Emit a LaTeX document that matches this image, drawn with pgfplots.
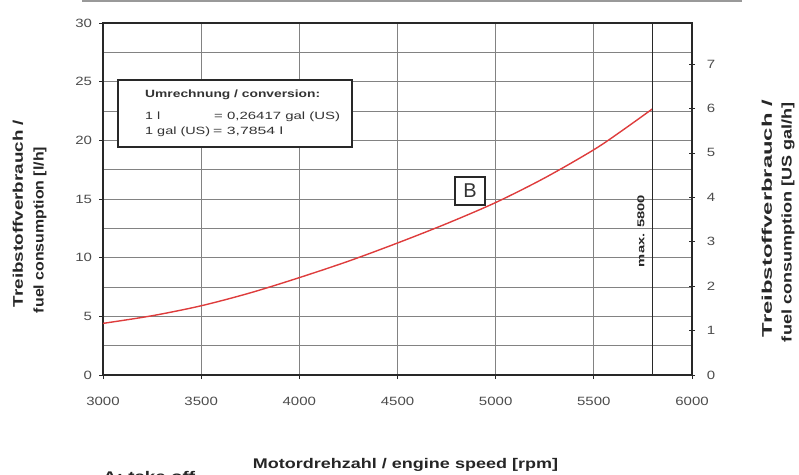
\documentclass[border=0pt]{standalone}
\usepackage{pgfplots}
\pgfplotsset{compat=1.18}
\usepackage{fontspec}
\setmainfont{Liberation Sans}
\usepackage{graphicx}
\newcommand\SW[2]{\resizebox{#1}{\height}{#2}}
\definecolor{curve}{RGB}{222,60,60}
\definecolor{frame}{RGB}{40,40,40}
\definecolor{gridc}{RGB}{130,130,130}
\begin{document}
\begin{tikzpicture}
\begin{axis}[
  at={(103pt,99pt)}, anchor=south west, scale only axis,
  width=589pt, height=352pt,
  xmin=3000, xmax=6000, ymin=0, ymax=30,
  xtick={3000,3500,...,6000}, ytick={0,5,...,30},
  minor ytick={2.5,7.5,...,27.5},
  xtick pos=left, ytick pos=left, tick align=outside,
  major tick length=4pt, minor tick length=0pt,
  grid=both,
  major grid style={gridc, line width=0.8pt},
  minor grid style={gridc, line width=0.8pt},
  axis line style={frame, line width=1.8pt},
  tick style={frame, line width=0.8pt},
  tick label style={font=\fontsize{12}{14}\selectfont, xscale=1.25, text=black!70},
  /pgf/number format/assume math mode=true,
  /pgf/number format/1000 sep={},
  xticklabel style={yshift=-15pt},
  yticklabel style={xshift=-2pt},
  clip=false,
]
\addplot[curve, line width=1.4pt, smooth] coordinates {
  (3000,4.4) (3250,5.05) (3500,5.9) (3750,7.0) (4000,8.3) (4250,9.7)
  (4500,11.25) (4750,12.9) (5000,14.7) (5250,16.8) (5500,19.2)
  (5650,20.9) (5800,22.7)
};
\draw[frame, line width=1.3pt] (axis cs:5800,0) -- (axis cs:5800,30);
\end{axis}
\begin{axis}[
  at={(103pt,99pt)}, anchor=south west, scale only axis,
  width=589pt, height=352pt,
  xmin=3000, xmax=6000, ymin=0, ymax=7.92518,
  hide x axis, axis y line*=right,
  ytick={0,1,...,7}, tick align=center, major tick length=6pt,
  axis line style={frame, line width=1.8pt},
  tick style={frame, line width=0.8pt},
  tick label style={font=\fontsize{12}{14}\selectfont, xscale=1.25, text=black!70},
  /pgf/number format/assume math mode=true,
  yticklabel style={xshift=6pt},
]
\end{axis}
% top partial frame line
\draw[gray!80, line width=1.2pt] (82pt,473pt) -- (742pt,473pt);
% conversion box
\draw[frame, line width=2pt, fill=white] (118pt,394pt) rectangle (352pt,327pt);
\begin{scope}[every node/.style={inner sep=0pt, font=\fontsize{10.5}{12}\selectfont, text=black!80}]
\node[anchor=base west] at (145pt,376pt) {\SW{175pt}{\bfseries Umrechnung / conversion:}};
\node[anchor=base west] at (145pt,354pt) {\SW{15pt}{1 l}};
\node[anchor=base west] at (214pt,354pt) {\SW{126pt}{= 0,26417 gal (US)}};
\node[anchor=base west] at (145pt,339pt) {\SW{65pt}{1 gal (US)}};
\node[anchor=base west] at (213pt,339pt) {\SW{70pt}{= 3,7854 l}};
\end{scope}
% B marker
\draw[frame, line width=1.6pt, fill=white] (455pt,297pt) rectangle (485pt,269pt);
\node[inner sep=0pt, font=\fontsize{20}{22}\selectfont, text=black!80] at (470pt,283pt) {B};
% max 5800
\node[rotate=90, inner sep=0pt, font=\fontsize{10}{11}\selectfont\bfseries, text=black!85] at (641pt,243pt) {\SW{72pt}{max. 5800}};
% axis titles
\begin{scope}[every node/.style={inner sep=0pt, font=\fontsize{14}{16}\selectfont\bfseries, text=black!85}]
\node[anchor=base] at (405.5pt,6pt) {\SW{305pt}{Motordrehzahl / engine speed [rpm]}};
\node[anchor=base west] at (103pt,-7pt) {\SW{92pt}{A: take off}};
\node[rotate=90] at (18pt,260.5pt) {\SW{187pt}{Treibstoffverbrauch /}};
\node[rotate=90] at (40pt,244pt) {\SW{166pt}{fuel consumption [l/h]}};
\node[rotate=90] at (767pt,255.5pt) {\SW{237pt}{Treibstoffverbrauch /}};
\node[rotate=90] at (788pt,252pt) {\SW{240pt}{fuel consumption [US gal/h]}};
\end{scope}
\pgfresetboundingbox
\useasboundingbox (0pt,0pt) rectangle (799pt,474pt);
\end{tikzpicture}
\end{document}
